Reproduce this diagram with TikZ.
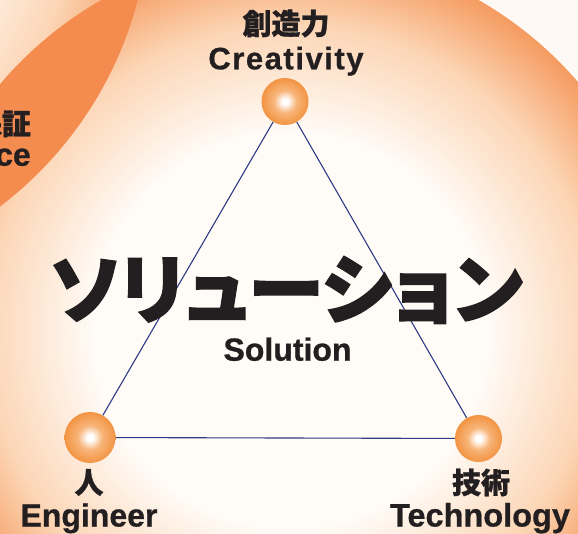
\documentclass[tikz,border=0pt]{standalone}
\usepackage{fontspec}
\newfontfamily\jpfont[BoldFeatures={FakeBold=1}]{Noto Sans CJK JP}
\newfontfamily\jptitle[RawFeature=+palt, BoldFeatures={FakeBold=1.6}]{Noto Sans CJK JP}
\newfontfamily\enfont[BoldFeatures={FakeBold=0.8}]{Liberation Sans}
\usetikzlibrary{positioning}
\definecolor{bgcol}{HTML}{FEF9F4}
\definecolor{glowin}{HTML}{FFFBF7}
\definecolor{glowmid}{HTML}{FCD6B6}
\definecolor{glowout}{HTML}{F59B60}
\definecolor{petal}{HTML}{F58C4F}
\definecolor{ballmid}{HTML}{F8B57A}
\definecolor{ballout}{HTML}{F29442}
\definecolor{sidecol}{HTML}{2E3C84}
\definecolor{ink}{HTML}{231F20}
\pgfdeclareradialshading{glow}{\pgfpoint{0bp}{0bp}}{color(0bp)=(glowin); color(13bp)=(glowin);
  color(20bp)=(glowmid); color(25bp)=(glowout); color(50bp)=(glowout)}
\pgfdeclareradialshading{ballglow}{\pgfpoint{0bp}{0bp}}{color(0bp)=(white); color(3bp)=(white);
  color(12bp)=(ballmid); color(25bp)=(ballout); color(50bp)=(ballout)}
\tikzset{ball/.style = {circle, inner sep=0pt, minimum size=47pt, shading=ballglow},
         side/.style = {draw=sidecol, line width=1.1pt},
         jplabel/.style = {font=\jpfont\bfseries\fontsize{29}{29}\selectfont, text=ink, inner sep=0pt},
         enlabel/.style = {font=\enfont\bfseries\fontsize{32}{32}\selectfont, text=ink, inner sep=0pt,
                           anchor=base}}

\begin{document}
\begin{tikzpicture}[x=1pt, y=1pt]
      \useasboundingbox (0, 0) rectangle (578, 533);
      \clip (0, 0) rectangle (578, 533);
      \fill [bgcol] (0, 0) rectangle (578, 533);
      \shade [shading=glow] (-230, 629) circle [radius=380];
      \shade [shading=glow] (290, 203) circle [radius=380];
      \begin{scope}
        \clip (-230, 629) circle [radius=380];
        \fill [petal] (290, 203) circle [radius=380];
      \end{scope}
      \node [jplabel, anchor=east] (asrjp) at (31, 409.5) {保証};
      \node [enlabel, anchor=base east] (asren) at (31, 367.3) {Assurance};
      \node [ball] (cre) at (285, 431.5) {};
      \node [ball, minimum size=51pt] (eng) at (90, 95.5) {};
      \node [ball] (tec) at (478.5, 94.5) {};
      \draw [side] (cre) -- (eng) -- (tec) -- (cre);
      \node [jplabel] (crejp) at (286, 509.5) {創造力};
      \node [enlabel, font=\enfont\bfseries\fontsize{31}{31}\selectfont\addfontfeature{LetterSpace=5}]
            (creen) at (286, 463.7) {Creativity};
      \node [jplabel] (engjp) at (89, 50.5) {人};
      \node [enlabel] (engen) at (89, 6.5) {Engineer};
      \node [jplabel] (tecjp) at (481, 50.5) {技術};
      \node [enlabel, font=\enfont\bfseries\fontsize{32.5}{32.5}\selectfont] (tecen) at (480, 6.5) {Technology};
      \node [text=ink, inner sep=0pt, font=\jptitle\bfseries\fontsize{76}{76}\selectfont] (soljp) at (286.5, 243) {ソリューション};
      \node [enlabel] (solen) at (287.5, 172.3) {Solution};
    \end{tikzpicture}
\end{document}
